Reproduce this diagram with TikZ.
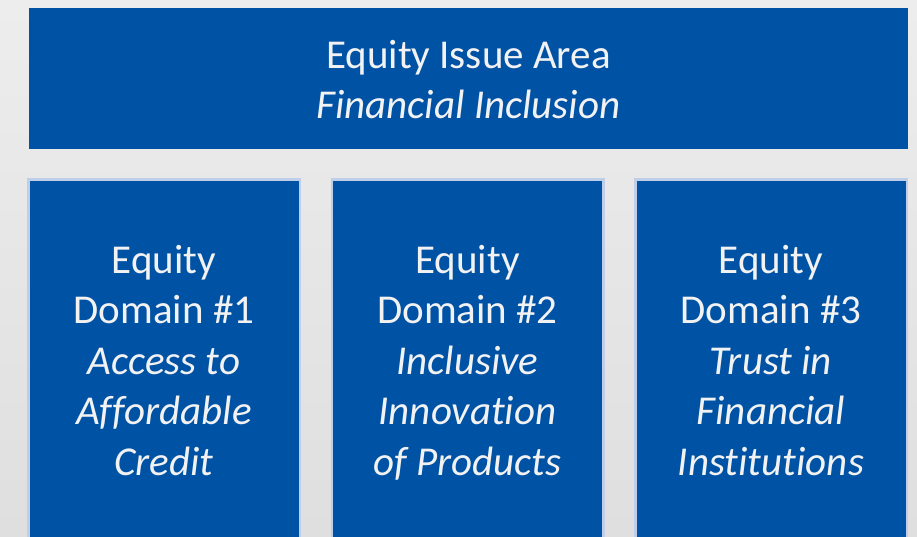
\documentclass[tikz,border=0pt]{standalone}
\usepackage{fontspec}
\setmainfont{Carlito}[Ligatures=NoCommon]
\definecolor{boxblue}{HTML}{0052A5}
\definecolor{edgeblue}{HTML}{BFCFEA}
\definecolor{textwhite}{HTML}{F2F2F2}
\definecolor{bgtop}{HTML}{EDEDED}
\definecolor{bgbottom}{HTML}{DFDFDF}
\tikzset{
    issuebox/.style={rectangle, fill=boxblue, inner sep=0pt, minimum width=879pt, minimum height=141pt},
    domainbox/.style={rectangle, fill=boxblue, draw=edgeblue, line width=2.5pt, inner sep=0pt, minimum width=271.5pt, minimum height=420pt},
    boxtext/.style={text=textwhite, align=center, inner sep=0pt, font=\fontsize{41}{50.5}\selectfont}
}
\begin{document}
\begin{tikzpicture}[x=1pt, y=-1pt]
        \clip (0,0) rectangle (917,536);
        % Background
        \shade[top color=bgtop, bottom color=bgbottom] (0,0) rectangle (917,536);

        % Issue area (top)
        \node[issuebox] (issue) at (468.5,78.5) {};
        \node[boxtext, anchor=base] (issuetext) at (468.5,118.5) {Equity Issue Area\\\itshape Financial Inclusion};

        % Equity domains
        \foreach \i/\x/\a/\b/\c in {1/164/Access to/Affordable/Credit,
                                   2/467.5/Inclusive/Innovation/of Products,
                                   3/771/Trust in/Financial/Institutions} {
            \node[domainbox, anchor=north] (dom\i) at (\x,178.25) {};
            \node[boxtext, anchor=base] (domtext\i) at (\x,475) {Equity\\Domain \#\i\\\itshape \a\\\itshape \b\\\itshape \c};
        }
    \end{tikzpicture}
\end{document}
